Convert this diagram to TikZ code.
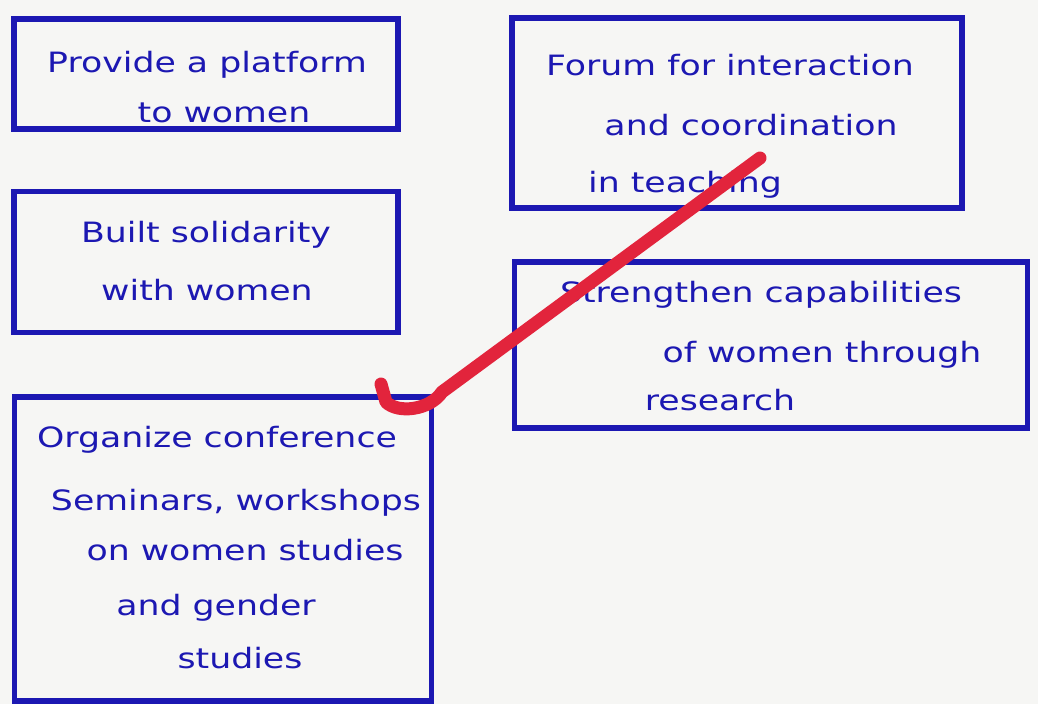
\documentclass[tikz,border=0pt]{standalone}
\usepackage{fontspec}
\setmainfont{DejaVu Sans}
\definecolor{paper}{RGB}{246,246,244}
\definecolor{ink}{RGB}{28,24,178}
\definecolor{marker}{RGB}{226,36,60}
\tikzset{
  box/.style={draw=ink, line width=5.5pt, rectangle, inner sep=0pt},
  hand/.style={text=ink, font=\fontsize{28}{30}\selectfont, inner sep=0pt, anchor=center, xscale=1.24, transform shape},
}
\begin{document}
\begin{tikzpicture}[x=1pt,y=-1pt]
\fill[paper] (0,0) rectangle (1038,704);
\useasboundingbox (0,0) rectangle (1038,704);
% boxes
\node[box, minimum width=384pt, minimum height=110pt] (b1) at (206,74) {};
\node[box, minimum width=384pt, minimum height=141pt] (b2) at (206,262) {};
\node[box, minimum width=417pt, minimum height=304pt] (b3) at (223,549) {};
\node[box, minimum width=450pt, minimum height=190pt] (b4) at (737,113) {};
\node[box, minimum width=513pt, minimum height=166pt] (b5) at (771,345) {};
% texts
\node[hand] (t1a) at (207,65) {Provide a platform};
\node[hand] (t1b) at (224,113) {to women};
\node[hand] (t2a) at (206,235) {Built solidarity};
\node[hand] (t2b) at (207,290) {with women};
\node[hand] (t3a) at (217,440) {Organize conference};
\node[hand] (t3b) at (236,503) {Seminars, workshops};
\node[hand] (t3c) at (245,550) {on women studies};
\node[hand] (t3d) at (216,608) {and gender};
\node[hand] (t3e) at (240,658) {studies};
\node[hand] (t4a) at (730,65) {Forum for interaction};
\node[hand] (t4b) at (751,125) {and coordination};
\node[hand] (t4c) at (685,185) {in teaching};
\node[hand] (t5a) at (761,295) {Strengthen capabilities};
\node[hand] (t5b) at (822,355) {of women through};
\node[hand] (t5c) at (720,400) {research};
% red mark
\draw[marker, line width=13pt, line cap=round, line join=round]
  (760,158) -- (442,392) .. controls (430,410) and (398,414) .. (386,402) -- (381,384);
\end{tikzpicture}
\end{document}
